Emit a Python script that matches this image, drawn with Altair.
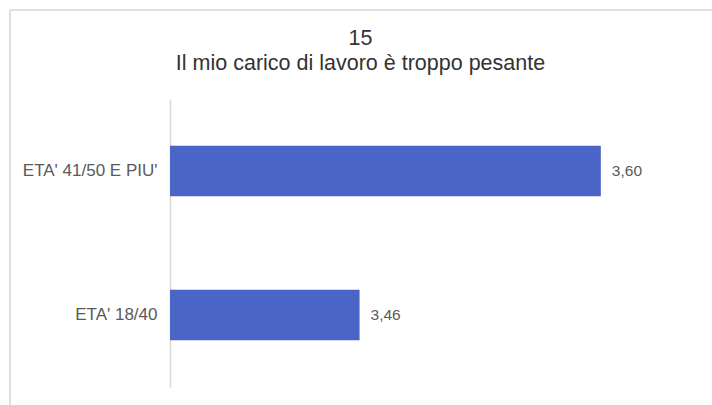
import altair as alt
import pandas as pd

categories = ["ETA' 41/50 E PIU'", "ETA' 18/40"]
values = [3.60, 3.46]

df = pd.DataFrame({
    "cat": categories,
    "val": values,
    "lab": [f"{v:.2f}".replace(".", ",") for v in values],
})

FONT = "Liberation Sans"

x = alt.X("val:Q", scale=alt.Scale(domain=[3.35, 3.65], zero=False, nice=False), axis=None)
y = alt.Y("cat:N", sort=categories, scale=alt.Scale(paddingInner=0.65, paddingOuter=0.325),
          axis=alt.Axis(title=None, ticks=False, grid=False, domainColor="#d9d9d9", domainWidth=1.5,
                        labelPadding=13, labelColor="#5a5a5a", labelFontSize=17, labelFont=FONT))

bars = alt.Chart(df).mark_bar(color="#4a65c5", clip=True).encode(x=x, y=y)
texts = alt.Chart(df).mark_text(align="left", dx=11, fontSize=15.5, color="#5a5a5a", font=FONT).encode(
    x=x, y=y, text="lab:N")

frame_left = alt.Chart(df).mark_rule(color="#dddddd", strokeWidth=1.5).encode(
    x=alt.value(-160), y=alt.value(-89), y2=alt.value(320))
frame_top = alt.Chart(df).mark_rule(color="#dddddd", strokeWidth=1.5).encode(
    x=alt.value(-160), x2=alt.value(560), y=alt.value(-89))

chart = alt.layer(frame_left, frame_top, bars, texts).properties(
    width=517, height=288,
    background="white",
    padding={"left": 170, "top": 99, "right": 25, "bottom": 18},
    autosize=alt.AutoSizeParams(type="none"),
    title=alt.TitleParams(
        text=["15", "Il mio carico di lavoro è troppo pesante"],
        anchor="middle", frame="group", dx=-68, offset=-65,
        fontSize=21.5, fontWeight="normal", color="#333333", font=FONT, lineHeight=25,
    ),
).configure_view(strokeWidth=0)

chart.save("out.html", embed_options={"renderer": "svg", "actions": False})
